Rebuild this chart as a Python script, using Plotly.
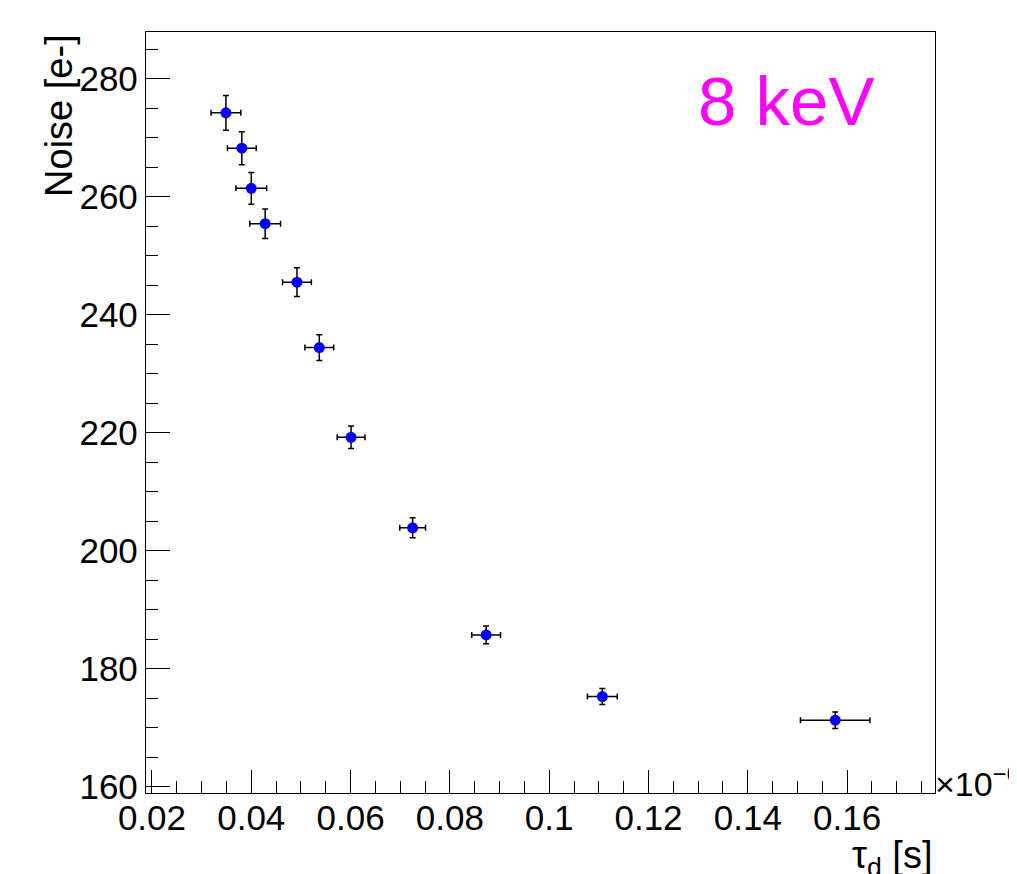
import plotly.graph_objects as go

# Data (x in units of 1e-6 s)
tau_d = [0.0349, 0.0381, 0.0400, 0.0428, 0.0492, 0.0537, 0.0601, 0.0725, 0.0873, 0.1107, 0.1576]
tau_err = [0.0030, 0.0029, 0.0031, 0.0031, 0.0029, 0.0029, 0.0028, 0.0026, 0.0029, 0.0030, 0.0070]
noise = [274.2, 268.2, 261.4, 255.4, 245.5, 234.4, 219.2, 203.85, 185.7, 175.25, 171.25]
noise_err = [2.95, 2.8, 2.7, 2.5, 2.45, 2.2, 1.9, 1.7, 1.5, 1.35, 1.4]

FONT = "Liberation Sans, Arial, Helvetica, sans-serif"

fig = go.Figure()
fig.add_trace(go.Scatter(
    x=tau_d, y=noise, mode="markers",
    marker=dict(color="#0000FF", size=11, symbol="circle"),
    error_x=dict(type="data", array=tau_err, color="black", thickness=1.5, width=3),
    error_y=dict(type="data", array=noise_err, color="black", thickness=1.5, width=3),
    showlegend=False,
))

L, R, T, B = 138, 90, 24, 89
fig.update_layout(
    width=1017, height=874,
    margin=dict(l=L, r=R, t=T, b=B, pad=0),
    paper_bgcolor="white", plot_bgcolor="white",
    font=dict(family=FONT, size=35, color="black"),
    xaxis=dict(
        range=[0.0188, 0.1777], dtick=0.02, tick0=0.0,
        ticks="inside", ticklen=23, tickwidth=1.3, tickcolor="black",
        showline=True, linecolor="black", linewidth=1.3, mirror=True,
        showgrid=False, zeroline=False,
        tickfont=dict(size=35), ticklabelstandoff=-6,
        minor=dict(dtick=0.005, tick0=0.0, ticks="inside", ticklen=12, tickwidth=1.3, tickcolor="black", showgrid=False),
    ),
    yaxis=dict(
        range=[158.9, 287.9], dtick=20, tick0=0,
        ticks="inside", ticklen=24, tickwidth=1.3, tickcolor="black",
        showline=True, linecolor="black", linewidth=1.3, mirror=True,
        showgrid=False, zeroline=False,
        tickfont=dict(size=35),
        minor=dict(dtick=5, tick0=0, ticks="inside", ticklen=12, tickwidth=1.3, tickcolor="black", showgrid=False),
    ),
)

fig.add_annotation(
    text="Noise [e-]", xref="paper", yref="paper",
    x=-0.1103, y=0.891, xanchor="center", yanchor="middle",
    textangle=-90, showarrow=False, font=dict(size=38, family=FONT),
)
fig.add_annotation(
    text="τ<sub>d</sub> [s]", xref="paper", yref="paper",
    x=1, y=0, xanchor="right", yanchor="top", yshift=-39,
    showarrow=False, font=dict(size=38, family=FONT),
)
fig.add_annotation(
    text="×10<sup>−6</sup>", xref="paper", yref="paper",
    x=1, y=0, xanchor="left", yanchor="middle", xshift=-2, yshift=12,
    showarrow=False, font=dict(size=34, family=FONT),
)
fig.add_annotation(
    text="8 keV", xref="paper", yref="paper",
    x=0.811, y=0.909, xanchor="center", yanchor="middle",
    showarrow=False, font=dict(size=69, family=FONT, color="#FF00FF"),
)

fig.write_html("out.html")
